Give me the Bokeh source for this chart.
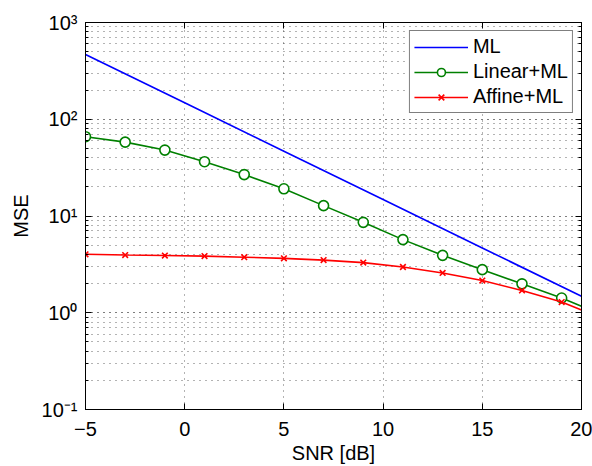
from bokeh.plotting import figure
from bokeh.models import (FixedTicker, LogAxis, LinearAxis, CustomJSTickFormatter,
                          Legend, LegendItem, Range1d)
from bokeh.embed import file_html
from bokeh.resources import INLINE

# ---- data ----
snr_ml = [-5, 0, 5, 10, 15, 20]
mse_ml = [467, 148, 46.7, 14.8, 4.67, 1.48]

snr_lin = [-5, -3, -1, 1, 3, 5, 7, 9, 11, 13, 15, 17, 19, 20]
mse_lin = [66, 58, 48, 36.4, 26.8, 19.1, 12.8, 8.6, 5.7, 3.92, 2.79, 1.99, 1.42, 1.17]

snr_aff = [-5, -3, -1, 1, 3, 5, 7, 9, 11, 13, 15, 17, 19, 20]
mse_aff = [4.02, 3.95, 3.9, 3.85, 3.75, 3.65, 3.5, 3.3, 2.97, 2.58, 2.15, 1.70, 1.29, 1.07]

series_names = ["ML", "Linear+ML", "Affine+ML"]
series_colors = ["#0000ff", "#008000", "#ff0000"]

x_ticks = [-5, 0, 5, 10, 15, 20]
y_exps = [-1, 0, 1, 2, 3]
y_tick_labels = ["10\u207b\u00b9", "10\u2070", "10\u00b9", "10\u00b2", "10\u00b3"]

FONT = "Liberation Sans"
FS = "20px"

y_major = [10.0 ** e for e in y_exps]
y_minor = [m * 10.0 ** e for e in y_exps[:-1] for m in range(1, 10)] + [10.0 ** y_exps[-1]]

p = figure(width=592, height=466, output_backend="svg", toolbar_location=None,
           y_axis_type="log",
           x_range=Range1d(-5, 20), y_range=Range1d(0.1, 1000),
           min_border_left=85, min_border_right=11, min_border_top=22, min_border_bottom=53)
p.background_fill_color = "white"
p.border_fill_color = "white"
p.outline_line_color = "black"
p.outline_line_width = 1

xticker = FixedTicker(ticks=x_ticks, minor_ticks=[])
yticker = FixedTicker(ticks=y_major, minor_ticks=y_minor)

yfmt = CustomJSTickFormatter(args=dict(exps=y_exps, labels=y_tick_labels), code="""
const e = Math.round(Math.log10(tick));
const i = exps.indexOf(e);
return i >= 0 ? labels[i] : '';
""")
xfmt = CustomJSTickFormatter(code="""
return tick < 0 ? '\\u2212' + Math.abs(tick) : String(tick);
""")
blank = CustomJSTickFormatter(code="return '';")

def style_axis(ax):
    ax.axis_line_color = "black"
    ax.axis_line_width = 1
    ax.major_tick_in = 6
    ax.major_tick_out = 0
    ax.minor_tick_in = 3
    ax.minor_tick_out = 0
    ax.major_tick_line_color = "black"
    ax.minor_tick_line_color = "black"
    ax.major_label_text_font = FONT
    ax.major_label_text_font_size = FS
    ax.major_label_text_color = "black"
    ax.axis_label_text_font = FONT
    ax.axis_label_text_font_size = FS
    ax.axis_label_text_font_style = "normal"
    ax.axis_label_text_color = "black"

xa = p.xaxis[0]
xa.ticker = xticker
xa.formatter = xfmt
xa.axis_label = "SNR [dB]"
style_axis(xa)
xa.major_label_standoff = 12
xa.axis_label_standoff = 3

ya = p.yaxis[0]
ya.ticker = yticker
ya.formatter = yfmt
ya.axis_label = "MSE"
style_axis(ya)
ya.major_label_standoff = 8
ya.axis_label_standoff = 7

ra = LogAxis(ticker=yticker, formatter=blank)
style_axis(ra)
p.add_layout(ra, "right")
ta = LinearAxis(ticker=xticker, formatter=blank)
style_axis(ta)
p.add_layout(ta, "above")

p.xgrid.ticker = xticker
p.ygrid.ticker = yticker
for g in (p.xgrid[0], p.ygrid[0]):
    g.grid_line_color = "black"
    g.grid_line_alpha = 0.6
    g.grid_line_dash = "1 5"
    g.grid_line_width = 1
p.ygrid[0].minor_grid_line_color = "black"
p.ygrid[0].minor_grid_line_alpha = 0.6
p.ygrid[0].minor_grid_line_dash = "1 5"
p.ygrid[0].minor_grid_line_width = 1

r_ml = p.line(snr_ml, mse_ml, line_color=series_colors[0], line_width=1.6)
r_lin = p.line(snr_lin, mse_lin, line_color=series_colors[1], line_width=1.6)
s_lin = p.scatter(snr_lin[:-1], mse_lin[:-1], marker="circle", size=10,
                  line_color=series_colors[1], fill_color="white", line_width=1.6)
r_aff = p.line(snr_aff, mse_aff, line_color=series_colors[2], line_width=1.6)
s_aff = p.scatter(snr_aff[:-1], mse_aff[:-1], marker="x", size=8,
                  line_color=series_colors[2], line_width=1.6)

legend = Legend(items=[
    LegendItem(label=series_names[0], renderers=[r_ml]),
    LegendItem(label=series_names[1], renderers=[r_lin, s_lin]),
    LegendItem(label=series_names[2], renderers=[r_aff, s_aff]),
], location="top_right")
legend.margin = 8
legend.padding = 4
legend.spacing = 2
legend.glyph_width = 54
legend.glyph_height = 20
legend.label_height = 20
legend.label_standoff = 5
legend.label_text_font = FONT
legend.label_text_font_size = FS
legend.label_text_color = "black"
legend.border_line_color = "black"
legend.border_line_width = 1
legend.background_fill_color = "white"
legend.background_fill_alpha = 1
p.add_layout(legend, "center")

open("out.html", "w").write(file_html(p, INLINE))
